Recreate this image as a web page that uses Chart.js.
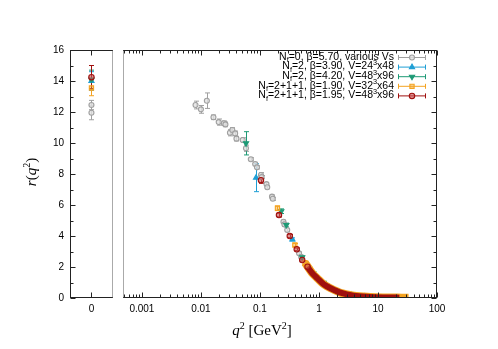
<!DOCTYPE html>
<html>
<head>
<meta charset="utf-8">
<script src="https://cdn.jsdelivr.net/npm/chart.js@4.4.0/dist/chart.umd.min.js"></script>
<style>
    html, body { margin: 0; padding: 0; background: #fff; }
    #wrap { position: relative; width: 498px; height: 349px; }
    #left { position: absolute; left: 0; top: 0; }
    #right { position: absolute; left: 118px; top: 0; }
</style>
</head>
<body>
<div id="wrap">
    <canvas id="left" width="118" height="349"></canvas>
    <canvas id="right" width="380" height="349"></canvas>
</div>
<script>
/* ### Data ### */

const legendText = [
    'N_f=0, β=5.70, various Vs',
    'N_f=2, β=3.90, V=24^3x48',
    'N_f=2, β=4.20, V=48^3x96',
    'N_f=2+1+1, β=1.90, V=32^3x64',
    'N_f=2+1+1, β=1.95, V=48^3x96'
];
const colors = ['#a0a0a0', '#1f9fd5', '#1e9a76', '#f4a322', '#a0100e'];

// q^2 = 0 panel
const zeroR = [[12.45, 11.95], [14.0], [14.1], [13.55], [14.25]];
const zeroErr = [[0.3, 0.45], [0.6], [0.6], [0.5], [0.75]];

// q^2 > 0 panel
const grayQ2 = [0.0081, 0.0100, 0.0126, 0.0163, 0.020, 0.0245, 0.026, 0.031, 0.034, 0.038, 0.040, 0.051,
    0.058, 0.070, 0.083, 0.089, 0.104, 0.107, 0.129, 0.133, 0.160, 0.165, 0.25, 0.26, 0.29, 0.46, 0.50,
    0.75, 1.0, 1.3, 1.8, 2.5];
const grayR = [12.45, 12.17, 12.73, 11.66, 11.35, 11.27, 11.2, 10.66, 10.84, 10.62, 10.28, 10.19,
    9.66, 8.95, 8.65, 8.43, 7.94, 7.8, 7.35, 7.15, 6.54, 6.4, 4.92, 4.75, 4.39, 2.88, 2.65,
    1.65, 1.2, 0.85, 0.5, 0.32];
const grayErr = [0.25, 0.25, 0.5, 0.15, 0.2, 0.15, 0.15, 0.2, 0.15, 0.15, 0.15, 0.15,
    0.2, 0.1, 0.1, 0.1, 0.15, 0.1, 0.1, 0.1, 0.1, 0.1, 0.1, 0.1, 0.1, 0.08, 0.08,
    0.05, 0.05, 0.05, 0.04, 0.03];

const blueQ2 = [0.086, 0.355, 0.70, 1.0, 1.5, 2.2, 3.5, 6.0, 10.0];
const blueR = [7.76, 3.78, 1.9, 1.2, 0.7, 0.4, 0.2, 0.09, 0.05];
const blueErr = [0.9, 0.1, 0.08, 0.05, 0.04, 0.03, 0.02, 0.01, 0.01];

const greenQ2 = [0.058, 0.23, 0.28, 0.52, 0.80, 1.2, 2.0, 3.0, 5.0, 9.0];
const greenR = [9.98, 5.6, 4.71, 2.63, 1.6, 0.98, 0.48, 0.27, 0.13, 0.06];
const greenErr = [0.75, 0.15, 0.12, 0.08, 0.06, 0.04, 0.03, 0.02, 0.01, 0.01];

const orangeQ2 = [0.198, 0.39, 0.58];
const orangeR = [5.79, 3.42, 2.28];
const orangeErr = [0.15, 0.1, 0.08];
const orangeBandQ2 = [0.58, 0.77, 0.94, 1.21, 1.57, 2.32, 3.9, 7.4, 12, 18.4, 25, 33];
const orangeBandR = [2.28, 1.6, 1.27, 0.88, 0.63, 0.34, 0.15, 0.07, 0.04, 0.03, 0.02, 0.02];

const redQ2 = [0.104, 0.21, 0.32, 0.42, 0.52, 0.64];
const redR = [7.6, 5.35, 4.0, 3.14, 2.45, 2.02];
const redErr = [0.2, 0.12, 0.1, 0.08, 0.07, 0.06];
const redBandQ2 = [0.64, 0.77, 0.94, 1.21, 1.57, 2.32, 3.9, 7.4, 12, 18.4, 23];
const redBandR = [2.0, 1.6, 1.27, 0.88, 0.63, 0.34, 0.15, 0.07, 0.04, 0.03, 0.02];

const xTickVals = [0.001, 0.01, 0.1, 1, 10, 100];
const xTickLabels = ['0.001', '0.01', '0.1', '1', '10', '100'];
const yTickVals = [0, 2, 4, 6, 8, 10, 12, 14, 16];

/* ### Settings ### */

Chart.defaults.font.family = '"Liberation Sans", Arial, sans-serif';
Chart.defaults.font.size = 10;
Chart.defaults.color = '#000';

const SANS = '"Liberation Sans", Arial, sans-serif';
const SERIF = '"Liberation Serif", "DejaVu Serif", serif';

const markers = [
    { pointStyle: 'circle', radius: 2.5, rotation: 0, fill: 'rgba(225,225,225,0.8)' },
    { pointStyle: 'triangle', radius: 3, rotation: 0, fill: '#1f9fd5' },
    { pointStyle: 'triangle', radius: 3, rotation: 180, fill: '#1e9a76' },
    { pointStyle: 'rect', radius: 3, rotation: 0, fill: 'rgba(244,163,34,0.45)' },
    { pointStyle: 'circle', radius: 2.7, rotation: 0, fill: 'rgba(200,80,80,0.6)' }
];

/* ### Helpers ### */

function toPoints(xs, ys) {
    return xs.map((x, i) => ({ x: x, y: ys[i] }));
}

function pointDataset(i, data, errs, order) {
    let m = markers[i];
    return {
        data: data,
        errs: errs,
        errColor: colors[i],
        showLine: false,
        pointStyle: m.pointStyle,
        pointRadius: m.radius,
        pointRotation: m.rotation,
        pointBorderWidth: 1.1,
        pointBorderColor: colors[i],
        pointBackgroundColor: m.fill,
        order: order
    };
}

function bandDataset(color, data, width, order) {
    return {
        data: data,
        showLine: true,
        borderColor: color,
        borderWidth: width,
        borderCapStyle: 'butt',
        pointRadius: 0,
        tension: 0.3,
        order: order
    };
}

// Split 'N_f=2, V=24^3x48' into normal / subscript / superscript pieces
function parseRich(s, size) {
    let parts = [];
    s.split(/([_^].)/).forEach(p => {
        if (p === '') return;
        if (p[0] === '_') parts.push({ t: p[1], font: (size * 0.7) + 'px ' + SANS, dy: size * 0.3 });
        else if (p[0] === '^') parts.push({ t: p[1], font: (size * 0.7) + 'px ' + SANS, dy: -size * 0.35 });
        else parts.push({ t: p, font: size + 'px ' + SANS, dy: 0 });
    });
    return parts;
}

function richText(ctx, parts, x, y, align) {
    let w = 0;
    parts.forEach(p => { ctx.font = p.font; w += ctx.measureText(p.t).width; });
    let cx = (align === 'right') ? x - w : (align === 'center') ? x - w / 2 : x;
    ctx.textAlign = 'left';
    ctx.textBaseline = 'middle';
    parts.forEach(p => {
        ctx.font = p.font;
        ctx.fillText(p.t, cx, y + p.dy);
        cx += ctx.measureText(p.t).width;
    });
}

function drawMarker(ctx, i, x, y) {
    let m = markers[i];
    ctx.save();
    ctx.strokeStyle = colors[i];
    ctx.fillStyle = m.fill;
    ctx.lineWidth = 1.1;
    Chart.helpers.drawPoint(ctx, { pointStyle: m.pointStyle, radius: m.radius, rotation: m.rotation, borderWidth: 1.1 }, x, y);
    ctx.restore();
}

function line(ctx, x1, y1, x2, y2) {
    ctx.beginPath();
    ctx.moveTo(x1, y1);
    ctx.lineTo(x2, y2);
    ctx.stroke();
}

/* ### Plugins ### */

const errorBars = {
    id: 'errorBars',
    beforeDatasetsDraw(chart) {
        const ctx = chart.ctx;
        const ys = chart.scales.y;
        chart.data.datasets.forEach((ds, di) => {
            if (!ds.errs) return;
            const meta = chart.getDatasetMeta(di);
            ctx.save();
            ctx.strokeStyle = ds.errColor;
            ctx.lineWidth = 1;
            meta.data.forEach((el, k) => {
                let v = ds.data[k].y, e = ds.errs[k];
                let y1 = ys.getPixelForValue(v + e), y2 = ys.getPixelForValue(v - e);
                let x = Math.round(el.x) + 0.5;
                line(ctx, x, y1, x, y2);
                line(ctx, x - 2.5, y1, x + 2.5, y1);
                line(ctx, x - 2.5, y2, x + 2.5, y2);
            });
            ctx.restore();
        });
    }
};

const frame = {
    id: 'frame',
    afterDraw(chart, args, opts) {
        const ctx = chart.ctx;
        const a = chart.chartArea;
        const xs = chart.scales.x, ys = chart.scales.y;
        const L = Math.round(a.left) + 0.5, R = Math.round(a.right) - 0.5;
        const T = Math.round(a.top) + 0.5, B = Math.round(a.bottom) - 0.5;
        ctx.save();
        ctx.strokeStyle = '#222';
        ctx.lineWidth = 1;

        // Solid sides
        line(ctx, L - 0.5, T, R + 0.5, T);
        line(ctx, L - 0.5, B, R + 0.5, B);
        if (opts.dotted === 'right') line(ctx, L, T, L, B);
        else line(ctx, R, T, R, B);

        // Dotted side
        ctx.save();
        ctx.strokeStyle = '#555';
        ctx.setLineDash([1, 1]);
        if (opts.dotted === 'right') line(ctx, R, T, R, B);
        else line(ctx, L, T, L, B);
        ctx.restore();

        // Y ticks (inward)
        for (let v = 0; v <= 16; v++) {
            let y = Math.round(ys.getPixelForValue(v)) + 0.5;
            let len = (v % 2 === 0) ? 5 : 3;
            if (opts.dotted === 'right') line(ctx, L, y, L + len, y);
            else line(ctx, R, y, R - len, y);
        }

        // X ticks (inward, bottom and top)
        let xt = [];
        if (xs.type === 'logarithmic') {
            for (let d = -4; d <= 2; d++) {
                for (let m = 1; m <= 9; m++) {
                    let v = m * Math.pow(10, d);
                    if (v >= xs.min && v <= xs.max) xt.push({ v: v, len: m === 1 ? 5 : 3 });
                }
            }
        } else {
            xt.push({ v: 0, len: 5 });
        }
        xt.forEach(t => {
            let x = Math.round(xs.getPixelForValue(t.v)) + 0.5;
            line(ctx, x, B, x, B - t.len);
            line(ctx, x, T, x, T + t.len);
        });
        ctx.restore();

        // Titles and legend
        ctx.save();
        ctx.fillStyle = '#000';
        if (opts.dotted === 'right') {
            ctx.translate(32, 172);
            ctx.rotate(-Math.PI / 2);
            richText(ctx, [
                { t: 'r', font: 'italic 15px ' + SERIF, dy: 0 },
                { t: '(', font: '15px ' + SERIF, dy: 0 },
                { t: 'q', font: 'italic 15px ' + SERIF, dy: 0 },
                { t: '2', font: '10px ' + SERIF, dy: -5 },
                { t: ')', font: '15px ' + SERIF, dy: 0 }
            ], 0, 0, 'center');
        } else {
            richText(ctx, [
                { t: 'q', font: 'italic 15px ' + SERIF, dy: 0 },
                { t: '2', font: '10px ' + SERIF, dy: -5 },
                { t: ' [GeV', font: '15px ' + SERIF, dy: 0 },
                { t: '2', font: '10px ' + SERIF, dy: -5 },
                { t: ']', font: '15px ' + SERIF, dy: 0 }
            ], 144, 331, 'center');

            // Legend
            legendText.forEach((s, i) => {
                let y = 57 + i * 9.6;
                richText(ctx, parseRich(s, 10.5), 276, y, 'right');
                ctx.strokeStyle = colors[i];
                ctx.lineWidth = 1;
                line(ctx, 280, y + 0.5, 308, y + 0.5);
                line(ctx, 280.5, y - 2, 280.5, y + 3);
                line(ctx, 307.5, y - 2, 307.5, y + 3);
                drawMarker(ctx, i, 294, y + 0.5);
            });
        }
        ctx.restore();
    }
};

/* ### Left panel: q^2 = 0 ### */

let leftSets = zeroR.map((rs, i) => pointDataset(i, rs.map(r => ({ x: 0, y: r })), zeroErr[i], 4 - i));

new Chart(document.getElementById('left').getContext('2d'), {
    type: 'scatter',
    data: { datasets: leftSets },
    plugins: [errorBars, frame],
    options: {
        responsive: false,
        animation: false,
        layout: { padding: { left: 0, right: 5, top: 50, bottom: 0 } },
        plugins: { legend: { display: false }, tooltip: { enabled: false }, frame: { dotted: 'right' } },
        scales: {
            x: {
                type: 'linear', min: -1, max: 1,
                grid: { display: false, drawTicks: false }, border: { display: false },
                afterBuildTicks: s => { s.ticks = [{ value: 0 }]; },
                afterFit: s => { s.height = 51; },
                ticks: { padding: 5, callback: () => '0', maxRotation: 0 }
            },
            y: {
                min: 0, max: 16,
                grid: { display: false, drawTicks: false }, border: { display: false },
                afterBuildTicks: s => { s.ticks = yTickVals.map(v => ({ value: v })); },
                afterFit: s => { s.width = 70; },
                ticks: { padding: 6 }
            }
        }
    }
});

/* ### Right panel: q^2 > 0 ### */

let rightSets = [
    pointDataset(0, toPoints(grayQ2, grayR), grayErr, 8),
    pointDataset(1, toPoints(blueQ2, blueR), blueErr, 7),
    pointDataset(2, toPoints(greenQ2, greenR), greenErr, 6),
    bandDataset(colors[3], toPoints(orangeBandQ2, orangeBandR), 8, 5),
    pointDataset(3, toPoints(orangeQ2, orangeR), orangeErr, 4),
    bandDataset(colors[4], toPoints(redBandQ2, redBandR), 6, 3),
    pointDataset(4, toPoints(redQ2, redR), redErr, 2)
];

new Chart(document.getElementById('right').getContext('2d'), {
    type: 'scatter',
    data: { datasets: rightSets },
    plugins: [errorBars, frame],
    options: {
        responsive: false,
        animation: false,
        layout: { padding: { left: 5, right: 61, top: 50, bottom: 0 } },
        plugins: { legend: { display: false }, tooltip: { enabled: false }, frame: { dotted: 'left' } },
        scales: {
            x: {
                type: 'logarithmic', min: 0.00048, max: 100,
                grid: { display: false, drawTicks: false }, border: { display: false },
                afterBuildTicks: s => { s.ticks = xTickVals.map(v => ({ value: v })); },
                afterFit: s => { s.height = 51; },
                ticks: { padding: 5, maxRotation: 0, autoSkip: false, callback: (v, i) => xTickLabels[i] }
            },
            y: {
                display: false, min: 0, max: 16
            }
        }
    }
});
</script>
</body>
</html>
